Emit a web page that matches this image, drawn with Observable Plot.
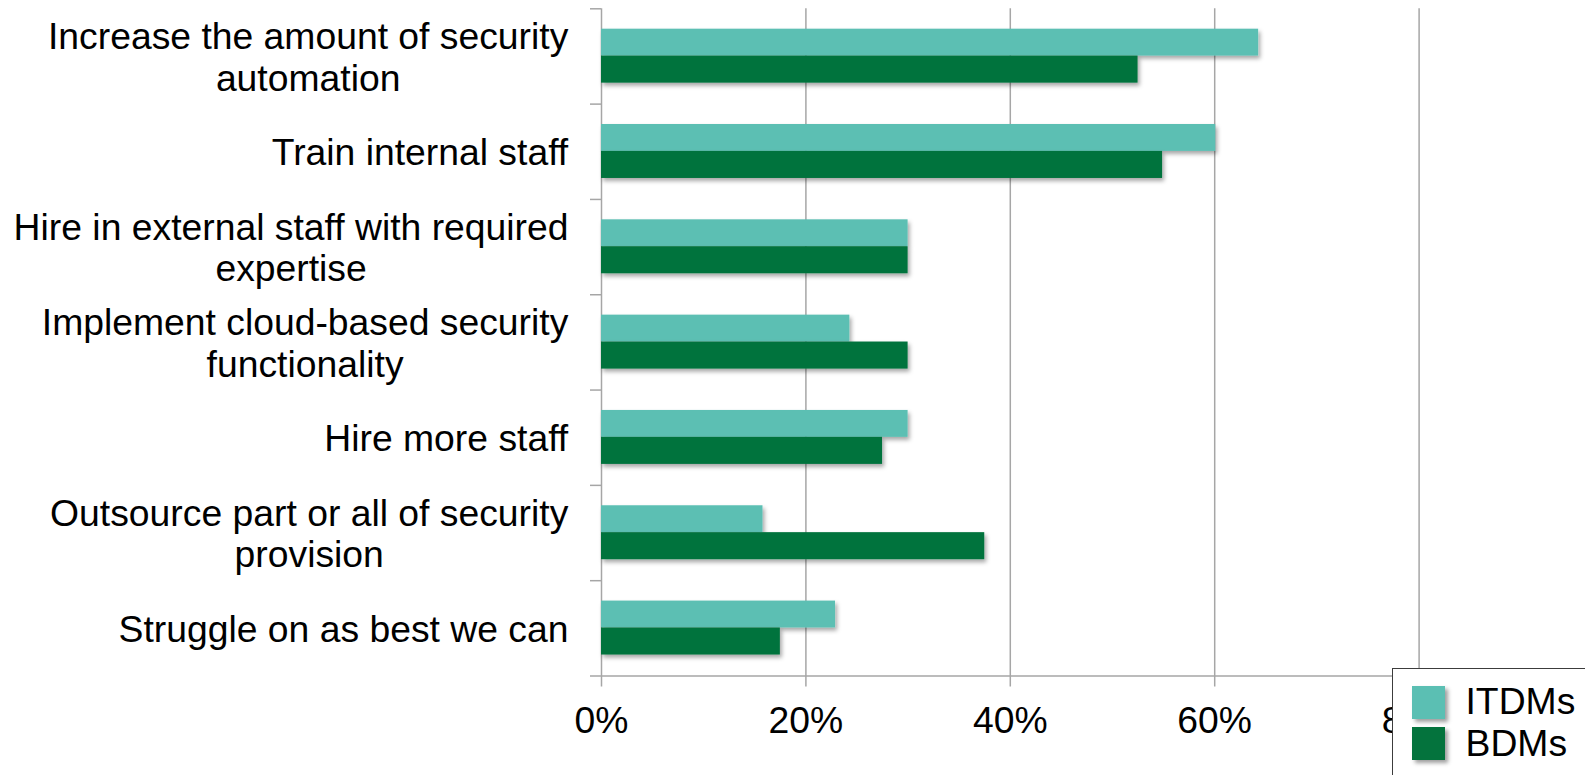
<!DOCTYPE html>
<html>
<head>
<meta charset="utf-8">
<script src="https://cdn.jsdelivr.net/npm/d3@7"></script>
<script src="https://cdn.jsdelivr.net/npm/@observablehq/plot@0.6"></script>
<style>
  html, body { margin: 0; padding: 0; background: #fff; overflow: hidden; }
  #wrap { position: relative; width: 1585px; height: 775px; }
  #legend {
    position: absolute; left: 1392px; top: 668px; width: 200px; height: 120px;
    box-sizing: border-box; border: 1.5px solid #3c3c3c; background: #fff;
    font-family: "Liberation Sans", Arial, sans-serif; color: #000;
  }
  .sw { position: absolute; width: 33px; height: 33px; box-shadow: 3px 3px 4px rgba(0,0,0,0.38); }
  .lt { position: absolute; font-size: 37.3px; line-height: 37px; white-space: nowrap; }
</style>
</head>
<body>
<div id="wrap"></div>
<script>
// ---- data ----
const categories = [
  "Increase the amount of security automation",
  "Train internal staff",
  "Hire in external staff with required expertise",
  "Implement cloud-based security functionality",
  "Hire more staff",
  "Outsource part or all of security provision",
  "Struggle on as best we can"
];
const categoryLabels = [
  "Increase the amount of security\nautomation",
  "Train internal staff",
  "Hire in external staff with required\nexpertise",
  "Implement cloud-based security\nfunctionality",
  "Hire more staff",
  "Outsource part or all of security\nprovision",
  "Struggle on as best we can"
];
const itdms = [64.3, 60.1, 30.0, 24.3, 30.0, 15.8, 22.9];
const bdms  = [52.5, 54.9, 30.0, 30.0, 27.5, 37.5, 17.5];
const seriesNames = ["ITDMs", "BDMs"];
const seriesColors = ["#5BBFB3", "#04733D"];
const gridTicks = [0, 20, 40, 60, 80, 100];
const xTickLabels = [0, 20, 40, 60, 80];

// ---- layout ----
const W = 1585, H = 775;
const plotTop = 8.3, axisBase = 675.5, tickLen = 11, x0 = 601, x100 = 1623;
const step = (axisBase - plotTop) / categories.length;
const gray = "#a6a6a6";
const font = '"Liberation Sans", Arial, sans-serif';
const fs = 37.3;

const rows = categories.map((c, i) => ({category: c, ITDMs: itdms[i], BDMs: bdms[i]}));
const labelOf = new Map(categories.map((c, i) => [c, categoryLabels[i]]));

const chart = Plot.plot({
  width: W, height: H,
  marginLeft: x0 - tickLen, marginRight: 0,
  marginTop: plotTop, marginBottom: H - (axisBase + tickLen),
  style: {fontFamily: font, color: "#000", background: "#fff", overflow: "visible"},
  x: {domain: [0, 100], range: [x0, x100], label: null},
  y: {type: "band", domain: categories, range: [plotTop, axisBase], paddingInner: 0, paddingOuter: 0, round: false, label: null},
  marks: [
    Plot.ruleX(gridTicks, {stroke: gray, strokeWidth: 1.5}),
    Plot.ruleY(categories.slice(-1), {dy: step / 2, stroke: gray, strokeWidth: 1.5}),
    Plot.axisY({ticks: categories, tickSize: tickLen, dx: tickLen, dy: -step / 2, tickFormat: () => "", stroke: gray, strokeWidth: 1.5, label: null}),
    Plot.barX(rows, {y: "category", x: "ITDMs", fill: seriesColors[0], insetTop: step * 0.214, insetBottom: step * 0.504}),
    Plot.barX(rows, {y: "category", x: "BDMs", fill: seriesColors[1], insetTop: step * 0.496, insetBottom: step * 0.22}),
    Plot.axisY({ticks: categories, tickSize: 0, tickPadding: 22, fontSize: fs, lineHeight: 1.12, tickFormat: d => labelOf.get(d), fill: "#000", label: null}),
    Plot.axisX({ticks: xTickLabels, tickSize: 0, tickPadding: 20, fontSize: fs, tickFormat: d => d + "%", fill: "#000", label: null})
  ]
});

const wrap = document.getElementById("wrap");
wrap.appendChild(chart);

// drop shadow on bars
const svg = d3.select(chart);
const filt = svg.append("defs").append("filter").attr("id", "barshadow")
  .attr("x", "-5%").attr("y", "-20%").attr("width", "115%").attr("height", "160%");
filt.append("feDropShadow").attr("dx", 2).attr("dy", 3).attr("stdDeviation", 2.2)
  .attr("flood-color", "#000").attr("flood-opacity", 0.35);
svg.selectAll('g[aria-label="bar"]').attr("filter", "url(#barshadow)");

// center-align multi-line category labels within right-aligned blocks
svg.selectAll('g[aria-label="y-axis tick label"] text').each(function() {
  if (!this.textContent) return;
  const w = this.getBBox().width;
  const t = d3.select(this);
  t.attr("text-anchor", "middle");
  const spans = t.selectAll("tspan");
  if (spans.size()) spans.attr("x", -w / 2);
  else t.attr("x", -w / 2);
});

// legend
const legend = document.createElement("div");
legend.id = "legend";
seriesNames.forEach((name, i) => {
  const sw = document.createElement("div");
  sw.className = "sw";
  sw.style.left = "18.5px";
  sw.style.top = (16.5 + i * 41.7) + "px";
  sw.style.background = seriesColors[i];
  legend.appendChild(sw);
  const lt = document.createElement("div");
  lt.className = "lt";
  lt.style.left = "72.5px";
  lt.style.top = (14.2 + i * 42) + "px";
  lt.textContent = name;
  legend.appendChild(lt);
});
wrap.appendChild(legend);
</script>
</body>
</html>
